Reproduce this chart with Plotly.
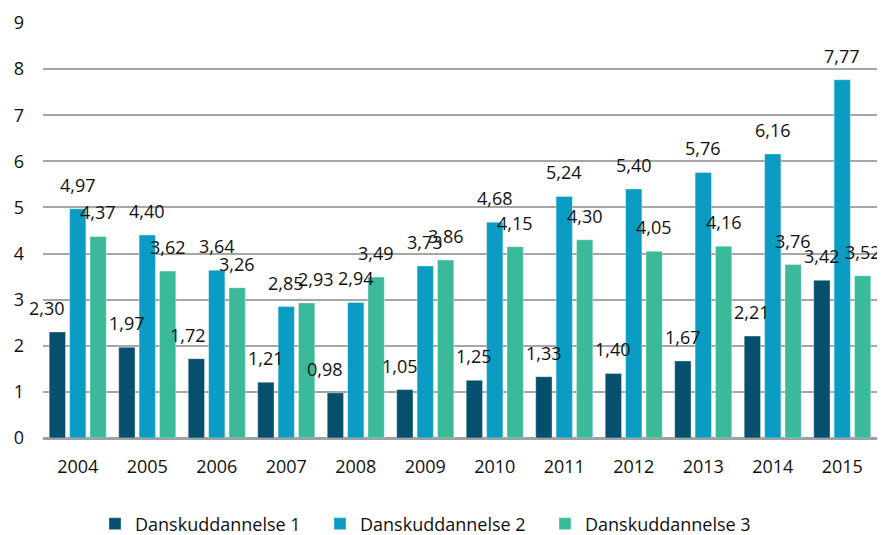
import plotly.graph_objects as go

years = ["2004", "2005", "2006", "2007", "2008", "2009", "2010", "2011", "2012", "2013", "2014", "2015"]
series_names = ["Danskuddannelse 1", "Danskuddannelse 2", "Danskuddannelse 3"]
s1 = [2.30, 1.97, 1.72, 1.21, 0.98, 1.05, 1.25, 1.33, 1.40, 1.67, 2.21, 3.42]
s2 = [4.97, 4.40, 3.64, 2.85, 2.94, 3.73, 4.68, 5.24, 5.40, 5.76, 6.16, 7.77]
s3 = [4.37, 3.62, 3.26, 2.93, 3.49, 3.86, 4.15, 4.30, 4.05, 4.16, 3.76, 3.52]
y_ticks = [0, 1, 2, 3, 4, 5, 6, 7, 8, 9]

colors = ["#06506E", "#0B9CC4", "#3BBA9A"]
series = [s1, s2, s3]

# small horizontal nudges of individual data labels (px), as in the original
label_nudge = {(0, 0): -10, (0, 2): -8, (0, 4): -10, (0, 5): -5, (2, 3): 9}

# the page body has an 8px margin, so the figure is drawn 8px smaller
W, H = 877, 527
ml, mr, mt, mb = 35, 8, 15, 97
bargap = 0.12
plot_w = W - ml - mr
slot_px = plot_w / len(years) * (1 - bargap) / 3

font = "Open Sans, Noto Sans, sans-serif"
fig = go.Figure()
for k, (name, vals) in enumerate(zip(series_names, series)):
    fig.add_trace(go.Bar(x=years, y=vals, name=name,
                         marker=dict(color=colors[k], line=dict(width=0.6, color="rgba(255,255,255,0.6)"))))

annotations = []
for k, vals in enumerate(series):
    for i, v in enumerate(vals):
        annotations.append(dict(
            x=i, y=v, xref="x", yref="y",
            text=f"{v:.2f}".replace(".", ","),
            showarrow=False, yshift=24, yanchor="middle",
            xshift=(k - 1) * slot_px + label_nudge.get((k, i), 0),
            font=dict(size=18, color="#111111", family=font),
        ))

fig.update_layout(
    width=W, height=H,
    margin=dict(l=ml, r=mr, t=mt, b=mb, autoexpand=False),
    paper_bgcolor="white", plot_bgcolor="white",
    barmode="group", bargap=bargap, bargroupgap=0.2,
    font=dict(family=font, size=18, color="#111111"),
    showlegend=True,
    legend=dict(orientation="h", x=87 / W, xref="container", xanchor="left",
                y=11 / H, yref="container", yanchor="middle",
                entrywidth=180, entrywidthmode="pixels",
                font=dict(size=18, family=font, color="#111111"), traceorder="normal"),
    annotations=annotations,
)
fig.update_xaxes(type="category", range=[-0.5, len(years) - 0.5], showgrid=False, showline=False, ticks="",
                 tickfont=dict(size=18), ticklabelstandoff=16, automargin=False)
fig.update_yaxes(range=[0, 9], tickvals=y_ticks, showgrid=True, gridcolor="#A6A6A6", gridwidth=1.5,
                 zeroline=True, zerolinecolor="#A0A0A0", zerolinewidth=2.5,
                 showline=False, ticks="", tickfont=dict(size=18), ticklabelstandoff=18, automargin=False)

fig.write_html("out.html")
